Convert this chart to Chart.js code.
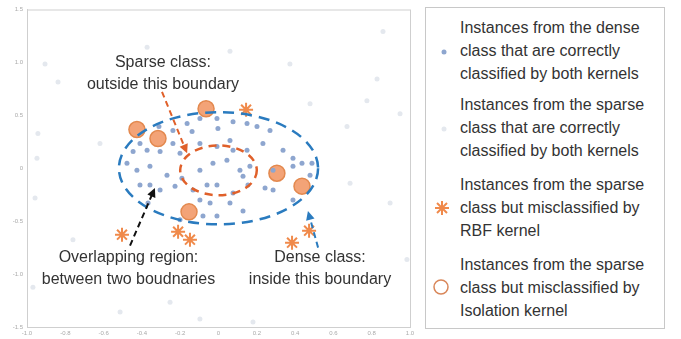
<!DOCTYPE html>
<html>
<head>
<meta charset="utf-8">
<script src="https://cdn.jsdelivr.net/npm/chart.js@4"></script>
<style>
  body { margin: 0; background: #fff; font-family: "Liberation Sans", Arial, sans-serif; }
  #wrap { position: relative; width: 681px; height: 339px; }
  #plot { position: absolute; left: 0; top: 0; width: 420px; height: 339px; }
  #legend {
    position: absolute; left: 425px; top: 7px; width: 240px; height: 322px;
    border: 1px solid #c8c8c8; box-sizing: border-box; color: #333;
    font-size: 16px; line-height: 23px;
  }
  .item { position: absolute; left: 34px; }
  .mk { position: absolute; }
</style>
</head>
<body>
<div id="wrap">
  <div id="plot"><canvas id="myChart" width="420" height="339"></canvas></div>
  <div id="legend">
    <svg class="mk" style="left:12px;top:38px" width="12" height="12"><circle cx="6" cy="6" r="2.5" fill="#8ea6cf"/></svg>
    <div class="item" style="top:8px">Instances from the dense<br>class that are correctly<br>classified by both kernels</div>
    <svg class="mk" style="left:12px;top:115px" width="12" height="12"><circle cx="6" cy="6" r="2.5" fill="#e4e8ee"/></svg>
    <div class="item" style="top:85px">Instances from the sparse<br>class that are correctly<br>classified by both kernels</div>
    <svg class="mk" style="left:7px;top:191px" width="18" height="18">
      <g stroke="#f08a4b" stroke-width="2"><line x1="9" y1="2" x2="9" y2="16"/><line x1="2" y1="9" x2="16" y2="9"/><line x1="4" y1="4" x2="14" y2="14"/><line x1="14" y1="4" x2="4" y2="14"/></g>
    </svg>
    <div class="item" style="top:165px">Instances from the sparse<br>class but misclassified by<br>RBF kernel</div>
    <svg class="mk" style="left:6px;top:270px" width="18" height="18"><circle cx="9" cy="9" r="7" fill="none" stroke="#d9875a" stroke-width="1.5"/></svg>
    <div class="item" style="top:245px">Instances from the sparse<br>class but misclassified by<br>Isolation kernel</div>
  </div>
</div>
<script>
const myChart = document.getElementById("myChart");

// dense class, correctly classified
const denseX = [-0.311,-0.238,-0.164,-0.138,-0.097,-0.008,-0.003,0.076,0.149,0.201,0.269,0.232,-0.41,-0.373,-0.305,-0.238,-0.201,-0.097,-0.008,0.06,0.076,0.149,0.337,0.389,0.436,0.488,-0.478,-0.426,-0.358,-0.269,-0.191,-0.097,-0.029,0.044,0.112,0.128,0.164,0.285,0.389,0.478,-0.41,-0.358,-0.227,-0.133,-0.06,-0.008,0.076,0.154,0.243,0.285,-0.368,-0.305,-0.097,-0.044,0.06,0.128,0.389,-0.081,-0.008,-0.201,-0.446];
const denseY = [0.394,0.356,0.422,0.347,0.469,0.469,0.375,0.44,0.422,0.394,0.356,0.234,0.234,0.169,0.159,0.234,0.141,0.234,0.206,0.262,0.169,0.169,0.169,0.094,0.047,0.047,0.047,-0.019,0.019,-0.066,-0.094,-0.019,0.047,0.075,-0.019,-0.075,0.019,-0.019,0.019,-0.066,-0.159,-0.159,-0.169,-0.206,-0.159,-0.159,-0.234,-0.159,-0.187,-0.206,-0.328,-0.206,-0.3,-0.328,-0.328,-0.403,-0.3,-0.45,-0.45,-0.487,0.159];

// sparse class, correctly classified (faint background points)
const sparseX = [0.859,0.828,0.775,0.948,0.671,0.06,-0.838,-0.948,-0.958,-0.969,0.984,0.18,-0.514,-0.619,0.478,0.687,-0.76,-0.373,-0.097,-0.943,-0.906,0.896,0.582,-0.253,0.373];
const sparseY = [1.293,0.844,0.637,0.516,0.394,1.106,0.815,0.094,-0.281,-1.125,-0.862,-1.453,-1.359,0.234,0.609,-0.141,-0.675,1.143,-1.425,0.328,0.984,-0.328,-1.078,-1.265,0.984];

// sparse class misclassified by RBF kernel
const rbfX = [0.144,-0.504,-0.211,-0.149,0.384,0.473];
const rbfY = [0.553,-0.628,-0.6,-0.675,-0.703,-0.59];

// sparse class misclassified by Isolation kernel
const isoX = [-0.426,-0.316,-0.065,0.305,0.436,-0.154];
const isoY = [0.366,0.281,0.562,-0.047,-0.169,-0.412];

const xTicks = [-1,-0.8,-0.6,-0.4,-0.2,0,0.2,0.4,0.6,0.8,1];
const yTicks = [-1.5,-1,-0.5,0,0.5,1,1.5];

// boundaries: [cx, cy, rx, ry]
const denseBoundary = [0.0, 0.0, 0.52, 0.53];
const sparseBoundary = [0.0, -0.02, 0.2, 0.235];

// arrows: [x0, y0, x1, y1]
const sparseArrow = [-0.295, 0.722, -0.164, 0.141];
const overlapArrow = [-0.462, -0.731, -0.332, -0.187];
const denseArrow = [0.52, -0.75, 0.467, -0.403];

const notes = [
  { x: -0.29, y: 1.0, text: "Sparse class:" },
  { x: -0.29, y: 0.79, text: "outside this boundary" },
  { x: -0.47, y: -0.84, text: "Overlapping region:" },
  { x: -0.47, y: -1.055, text: "between two boudnaries" },
  { x: 0.53, y: -0.84, text: "Dense class:" },
  { x: 0.53, y: -1.055, text: "inside this boundary" },
];

const pts = (xs, ys) => xs.map((x, i) => ({ x: x, y: ys[i] }));

const overlay = {
  id: "overlay",
  afterDatasetsDraw(chart) {
    const { ctx, scales: { x, y }, chartArea } = chart;
    ctx.save();
    // box
    ctx.strokeStyle = "#cfcfcf";
    ctx.lineWidth = 1;
    ctx.strokeRect(chartArea.left + 0.5, chartArea.top + 0.5, chartArea.right - chartArea.left, chartArea.bottom - chartArea.top);

    const ellipse = (b, color, dash) => {
      const cx = x.getPixelForValue(b[0]);
      const cy = y.getPixelForValue(b[1]);
      const rx = Math.abs(x.getPixelForValue(b[0] + b[2]) - cx);
      const ry = Math.abs(y.getPixelForValue(b[1] + b[3]) - cy);
      ctx.beginPath();
      ctx.setLineDash(dash);
      ctx.strokeStyle = color;
      ctx.lineWidth = 2.5;
      ctx.ellipse(cx, cy, rx, ry, 0, 0, Math.PI * 2);
      ctx.stroke();
    };
    ellipse(denseBoundary, "#2a7bbf", [11, 7]);
    ellipse(sparseBoundary, "#e0602a", [8, 6]);

    const arrow = (a, color) => {
      const x0 = x.getPixelForValue(a[0]), y0 = y.getPixelForValue(a[1]);
      const x1 = x.getPixelForValue(a[2]), y1 = y.getPixelForValue(a[3]);
      const ang = Math.atan2(y1 - y0, x1 - x0);
      ctx.setLineDash([6, 4]);
      ctx.strokeStyle = color;
      ctx.lineWidth = 2;
      ctx.beginPath();
      ctx.moveTo(x0, y0);
      ctx.lineTo(x1 - 6 * Math.cos(ang), y1 - 6 * Math.sin(ang));
      ctx.stroke();
      ctx.setLineDash([]);
      ctx.fillStyle = color;
      ctx.beginPath();
      ctx.moveTo(x1, y1);
      ctx.lineTo(x1 - 10 * Math.cos(ang - 0.45), y1 - 10 * Math.sin(ang - 0.45));
      ctx.lineTo(x1 - 10 * Math.cos(ang + 0.45), y1 - 10 * Math.sin(ang + 0.45));
      ctx.closePath();
      ctx.fill();
    };
    arrow(sparseArrow, "#e0602a");
    arrow(overlapArrow, "#111");
    arrow(denseArrow, "#2a7bbf");

    ctx.setLineDash([]);
    ctx.fillStyle = "#333";
    ctx.font = '16px "Liberation Sans", Arial, sans-serif';
    ctx.textAlign = "center";
    ctx.textBaseline = "middle";
    notes.forEach((n) => ctx.fillText(n.text, x.getPixelForValue(n.x), y.getPixelForValue(n.y)));
    ctx.restore();
  },
};

new Chart(myChart, {
  type: "scatter",
  data: {
    datasets: [
      {
        label: "sparse ok",
        data: pts(sparseX, sparseY),
        pointRadius: 2.5,
        backgroundColor: "#e4e8ee",
        borderWidth: 0,
      },
      {
        label: "dense ok",
        data: pts(denseX, denseY),
        pointRadius: 2.5,
        backgroundColor: "#8ea6cf",
        borderWidth: 0,
      },
      {
        label: "isolation",
        data: pts(isoX, isoY),
        pointRadius: 8,
        backgroundColor: "rgba(240,140,85,0.8)",
        borderColor: "#e3894f",
        borderWidth: 1.5,
      },
      {
        label: "rbf",
        data: pts(rbfX, rbfY),
        pointStyle: "star",
        pointRadius: 7,
        borderColor: "#f08a4b",
        borderWidth: 2,
      },
    ],
  },
  plugins: [overlay],
  options: {
    responsive: false,
    animation: false,
    events: [],
    layout: { padding: { top: 7, right: 10, left: 0, bottom: 0 } },
    plugins: { legend: { display: false }, tooltip: { enabled: false } },
    scales: {
      x: {
        type: "linear",
        min: -1,
        max: 1,
        afterBuildTicks: (s) => { s.ticks = xTicks.map((v) => ({ value: v })); },
        afterFit: (s) => { s.height = 12; },
        grid: { display: false, drawTicks: false },
        border: { color: "#cfcfcf" },
        ticks: { font: { size: 6 }, color: "#aaa", padding: 3 },
      },
      y: {
        type: "linear",
        min: -1.5,
        max: 1.5,
        afterBuildTicks: (s) => { s.ticks = yTicks.map((v) => ({ value: v })); },
        afterFit: (s) => { s.width = 27; },
        grid: { display: false, drawTicks: false },
        border: { color: "#cfcfcf" },
        ticks: { font: { size: 6 }, color: "#aaa", padding: 4 },
      },
    },
  },
});
</script>
</body>
</html>
